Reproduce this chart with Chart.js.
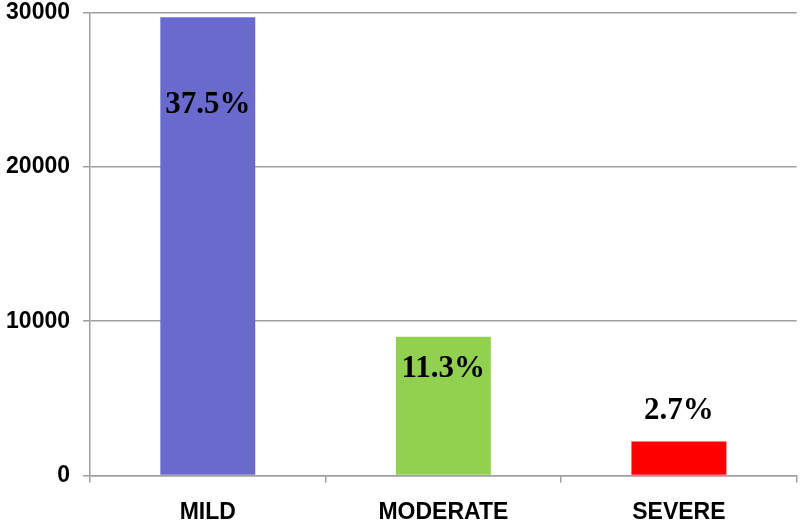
<!DOCTYPE html>
<html>
<head>
<meta charset="utf-8">
<script src="https://cdn.jsdelivr.net/npm/chart.js@4/dist/chart.umd.min.js"></script>
<style>
  html, body { margin:0; padding:0; background:#fff; }
  #wrap { width:800px; height:523px; position:relative; }
</style>
</head>
<body>
<div id="wrap"><canvas id="chart"></canvas></div>
<script>
// valores
const categories = ["MILD", "MODERATE", "SEVERE"];
const counts = [29700, 9000, 2200];
const percentLabels = ["37.5%", "11.3%", "2.7%"];
const barColors = ["#6A6ACE", "#92D050", "#FF0000"];
const yTicks = [0, 10000, 20000, 30000];

const GRID = "#a0a0a0";

// etiquetas de porcentaje: dentro o encima de cada barra
const pctLabels = {
  id: "pctLabels",
  afterDatasetsDraw(chart, args, opts){
    const ctx = chart.ctx;
    const meta = chart.getDatasetMeta(0);
    ctx.save();
    ctx.font = "bold 31px 'Liberation Serif', 'Times New Roman', serif";
    ctx.fillStyle = "#000";
    ctx.textAlign = "center";
    ctx.textBaseline = "middle";
    meta.data.forEach((bar, i)=>{
      const dy = opts.offsets[i] || 0;
      ctx.fillText(percentLabels[i], bar.x, bar.y + dy);
    });
    ctx.restore();
  }
};

new Chart(document.getElementById("chart"), {
  type: "bar",
  data: {
    labels: categories,
    datasets: [{
      data: counts,
      backgroundColor: barColors,
      borderWidth: 0,
      categoryPercentage: 1,
      barPercentage: 0.403
    }]
  },
  options: {
    responsive: true,
    maintainAspectRatio: false,
    animation: false,
    layout: { padding: { top: 12.7, right: 3.3, left: 0, bottom: 0 } },
    plugins: {
      legend: { display: false },
      tooltip: { enabled: false },
      pctLabels: { offsets: [88, 32, -31] }
    },
    scales: {
      x: {
        grid: { drawOnChartArea: false, drawTicks: true, tickLength: 7, color: GRID, lineWidth: 1.5 },
        border: { display: true, color: GRID, width: 1.5 },
        ticks: {
          color: "#000",
          padding: 16,
          font: { family: "'Liberation Sans', Arial, sans-serif", weight: "bold", size: 23 }
        },
        afterFit(scale){ scale.height = 47.5; scale.paddingLeft = 0; scale.paddingRight = 0; }
      },
      y: {
        min: 0, max: 30000,
        afterBuildTicks(scale){ scale.ticks = yTicks.map(v=>({value:v})); },
        grid: { color: GRID, lineWidth: 1.5, tickLength: 7 },
        border: { display: true, color: GRID, width: 1.5 },
        ticks: {
          color: "#000",
          padding: 13,
          font: { family: "'Liberation Sans', Arial, sans-serif", weight: "bold", size: 23 },
          callback: v => String(v)
        },
        afterFit(scale){ scale.width = 90; scale.paddingTop = 0; scale.paddingBottom = 0; }
      }
    }
  },
  plugins: [pctLabels]
});
</script>
</body>
</html>
